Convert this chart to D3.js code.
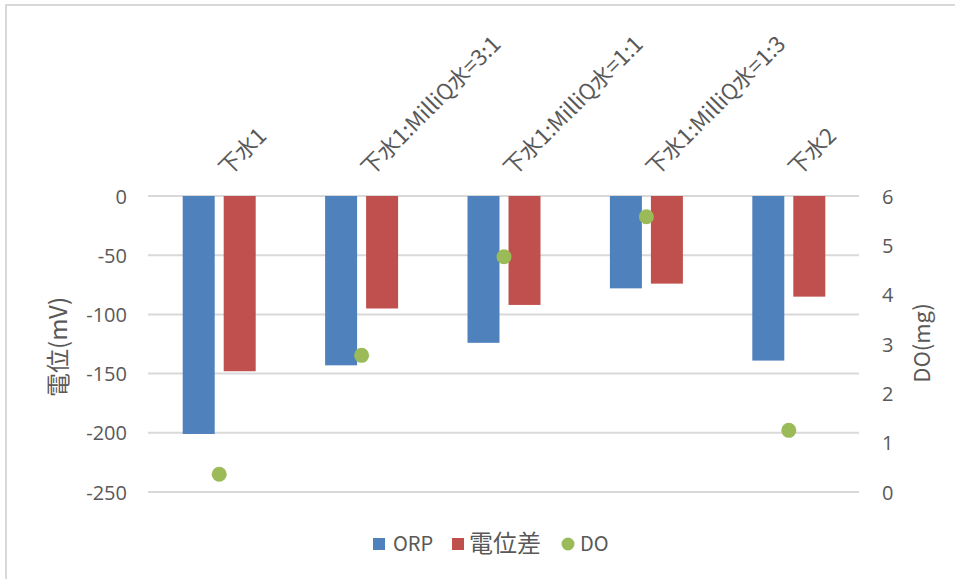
<!DOCTYPE html>
<html>
<head>
<meta charset="utf-8">
<script src="https://cdn.jsdelivr.net/npm/d3@7"></script>
<style>
  html, body { margin: 0; padding: 0; background: #fff; }
  svg { display: block; }
  text { font-family: "Noto Sans CJK JP", "Noto Sans", sans-serif; fill: #595959; }
</style>
</head>
<body>
<svg id="chart" width="955" height="579"></svg>
<script>
const categories = ["下水1", "下水1:MilliQ水=3:1", "下水1:MilliQ水=1:1", "下水1:MilliQ水=1:3", "下水2"];
const orpValues = [-201, -143, -124, -78, -139];
const diffValues = [-148, -95, -92, -74, -85];
const doValues = [0.36, 2.77, 4.77, 5.58, 1.25];
const leftTicks = [0, -50, -100, -150, -200, -250];
const rightTicks = [0, 1, 2, 3, 4, 5, 6];
const seriesNames = ["ORP", "電位差", "DO"];
const seriesColors = ["#4F81BD", "#C0504D", "#9BBB59"];

const svg = d3.select("#chart");

// chart border
svg.append("rect").attr("x", 6).attr("y", 5).attr("width", 980).attr("height", 620)
  .attr("fill", "#fff").attr("stroke", "#d9d9d9").attr("stroke-width", 2);

const plot = { left: 148, right: 860, top: 196, bottom: 492 };

const x0 = d3.scaleBand().domain(categories).range([plot.left, plot.right]).paddingInner(0).paddingOuter(0);
const groupW = 73;
const x1 = d3.scaleBand().domain(seriesNames.slice(0, 2)).range([0, groupW]).paddingInner(9 / 41).paddingOuter(0);
const yL = d3.scaleLinear().domain([-250, 0]).range([plot.bottom, plot.top]);
const yR = d3.scaleLinear().domain([0, 6]).range([plot.bottom, plot.top]);

// gridlines
svg.append("g").selectAll("line").data(leftTicks).join("line")
  .attr("x1", plot.left).attr("x2", plot.right - 1)
  .attr("y1", d => yL(d)).attr("y2", d => yL(d))
  .attr("stroke", "#d9d9d9").attr("stroke-width", 2);

// left axis labels
const leftAxis = d3.axisLeft(yL).tickValues(leftTicks).tickSize(0).tickPadding(0).tickFormat(d => d);
const gL = svg.append("g").attr("transform", `translate(${plot.left - 21},0)`).call(leftAxis);
gL.select(".domain").remove();
gL.selectAll("text").style("font-size", "20px").style("font-family", "'Open Sans', 'Noto Sans', sans-serif").attr("fill", "#595959").attr("dy", "0.35em");

// right axis labels
const rightAxis = d3.axisRight(yR).tickValues(rightTicks).tickSize(0).tickPadding(0).tickFormat(d3.format("d"));
const gR = svg.append("g").attr("transform", `translate(${plot.right + 22},0)`).call(rightAxis);
gR.select(".domain").remove();
gR.selectAll("text").style("font-size", "20px").style("font-family", "'Open Sans', 'Noto Sans', sans-serif").attr("fill", "#595959").attr("dy", "0.35em");

// bars
const rows = categories.map((c, i) => ({ cat: c, vals: [orpValues[i], diffValues[i]] }));
const groups = svg.append("g").selectAll("g").data(rows).join("g")
  .attr("transform", d => `translate(${x0(d.cat) + (x0.bandwidth() - groupW) / 2},0)`);
groups.selectAll("rect").data(d => d.vals.map((v, j) => ({ name: seriesNames[j], v, j }))).join("rect")
  .attr("x", d => x1(d.name)).attr("width", x1.bandwidth())
  .attr("y", d => yL(0)).attr("height", d => yL(d.v) - yL(0))
  .attr("fill", d => seriesColors[d.j]);

// DO points
svg.append("g").selectAll("circle").data(categories.map((c, i) => ({ c, v: doValues[i] }))).join("circle")
  .attr("cx", d => x0(d.c) + x0.bandwidth() / 2).attr("cy", d => yR(d.v)).attr("r", 7.5)
  .attr("fill", seriesColors[2]);

// category labels (rotated)
svg.append("g").selectAll("text").data(categories).join("text")
  .attr("transform", d => `translate(${x0(d) + x0.bandwidth() / 2 + 9},177) rotate(-45)`)
  .attr("text-anchor", "start")
  .style("font-size", "22px")
  .text(d => d);

// axis titles
svg.append("text").attr("transform", `translate(67,347) rotate(-90)`).attr("text-anchor", "middle")
  .style("font-size", "24px").text("電位(mV)");
svg.append("text").attr("transform", `translate(930,343) rotate(-90)`).attr("text-anchor", "middle")
  .style("font-size", "22px").text("DO(mg)");

// legend
const legend = svg.append("g").attr("transform", "translate(0,544)");
const legItems = [
  { name: seriesNames[0], color: seriesColors[0], shape: "rect", x: 373, tx: 393, fs: 20 },
  { name: seriesNames[1], color: seriesColors[1], shape: "rect", x: 452, tx: 469, fs: 24 },
  { name: seriesNames[2], color: seriesColors[2], shape: "circle", x: 562, tx: 580, fs: 20 }
];
legItems.forEach(it => {
  if (it.shape === "rect") {
    legend.append("rect").attr("x", it.x).attr("y", -6).attr("width", 12).attr("height", 12).attr("fill", it.color);
  } else {
    legend.append("circle").attr("cx", it.x + 6).attr("cy", 0).attr("r", 6.5).attr("fill", it.color);
  }
  legend.append("text").attr("x", it.tx).attr("y", 0).attr("dy", "0.35em").style("font-size", it.fs + "px").text(it.name);
});
</script>
</body>
</html>
